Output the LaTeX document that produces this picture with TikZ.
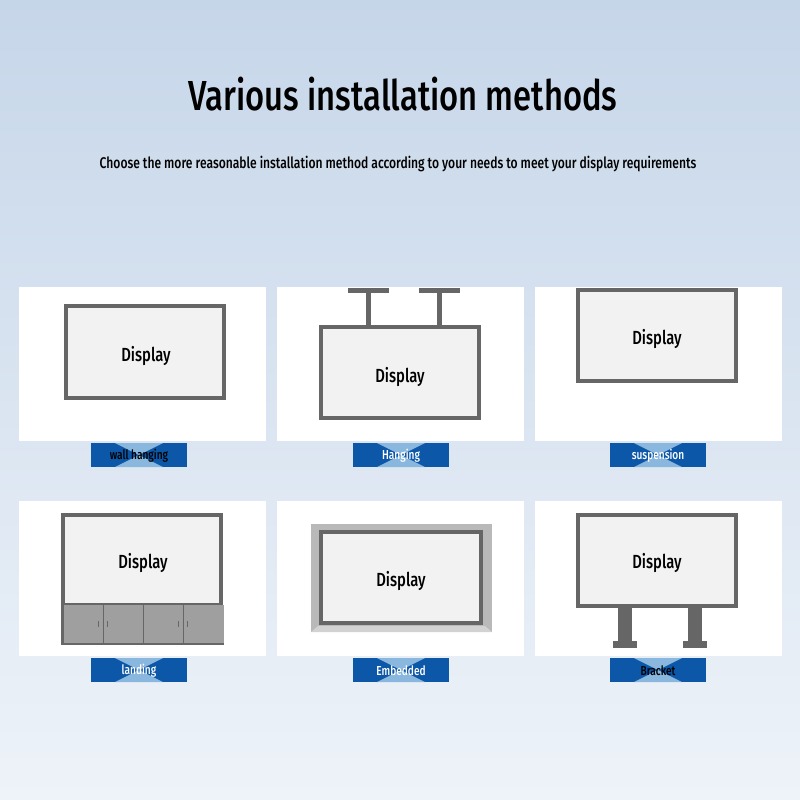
\documentclass[tikz,border=0pt]{standalone}
\usepackage{fontspec}
\setmainfont{Fira Sans}[FakeStretch=0.78]
\newfontfamily\medfont{Fira Sans Medium}[FakeStretch=0.78]
\usetikzlibrary{positioning}
\definecolor{frameg}{HTML}{666666}
\definecolor{screen}{HTML}{F2F2F2}
\definecolor{tagblue}{HTML}{0D57A8}
\definecolor{glow}{HTML}{CDEBFB}
\tikzset{
  panel/.style={fill=white, draw=none},
  screen/.style={fill=screen, draw=frameg, line width=4pt},
  disp/.style={font=\medfont\fontsize{19}{20}\selectfont, text=black},
  tag/.style={font=\medfont\fontsize{13}{14}\selectfont},
  metal/.style={fill=frameg, draw=none}
}
\newcommand{\tagbox}[4]{% x, y, text, colour
  \fill[tagblue] (#1-48,#2) rectangle (#1+48,#2+24);
  \fill[glow!65!tagblue] (#1-24,#2) -- (#1+24,#2) -- (#1,#2+12) -- cycle;
  \fill[glow!65!tagblue] (#1-24,#2+24) -- (#1+24,#2+24) -- (#1,#2+12) -- cycle;
  \node[tag, text=#4] (t#3) at (#1,#2+13) {#3};}
\begin{document}
\begin{tikzpicture}[x=1pt,y=-1pt]
\shade[top color={rgb,255:red,198;green,214;blue,233}, bottom color={rgb,255:red,238;green,243;blue,249}] (0,0) rectangle (800,800);
\useasboundingbox (0,0) rectangle (800,800);
\node[font=\medfont\fontsize{42}{44}\selectfont] (title) at (403,94) {Various installation methods};
\node[font=\medfont\fontsize{15.5}{17}\selectfont] (sub) at (398,164) {Choose the more reasonable installation method according to your needs to meet your display requirements};
% panels
\foreach \x in {19,277,535}
  {\fill[panel] (\x,287) rectangle (\x+247,441);
   \fill[panel] (\x,501) rectangle (\x+247,656);};
% wall hanging
\draw[screen] (66,306) rectangle (224,398);
\node[disp] (d1) at (146,356) {Display};
% hanging
\foreach \x in {348,419}
  {\fill[metal] (\x,288) rectangle (\x+41,293);
   \fill[metal] (\x+18,293) rectangle (\x+23,325);};
\draw[screen] (321,327) rectangle (479,418);
\node[disp] (d2) at (400,377) {Display};
% suspension
\draw[screen] (578,290) rectangle (736,381);
\node[disp] (d3) at (657,339) {Display};
% landing
\draw[screen] (63,515) rectangle (221,605);
\fill[gray!75] (63,605) rectangle (224,643);
\draw[frameg, line width=2pt] (62,644) -- (224,644);
\draw[frameg, line width=3pt] (62,605) -- (62,645);
\foreach \x in {103,143,183}
  \draw[frameg] (\x,605) -- (\x,643);
\foreach \x in {98,107,178,187}
  \draw[frameg] (\x,621) -- (\x,627);
\node[disp] (d4) at (143,563) {Display};
% embedded
\fill[gray!55] (311,524) rectangle (492,632);
\fill[gray!35] (311,632) -- (318,626) -- (485,626) -- (492,632) -- cycle;
\draw[screen] (321,532) rectangle (481,623);
\node[disp] (d5) at (401,581) {Display};
% bracket
\foreach \x in {618,688}
  {\fill[metal] (\x,608) rectangle (\x+14,641);
   \fill[metal] (\x-5,641) rectangle (\x+19,648);};
\draw[screen] (578,515) rectangle (736,606);
\node[disp] (d6) at (657,563) {Display};
% tags
\tagbox{139}{443}{wall hanging}{black}
\tagbox{401}{443}{Hanging}{white}
\tagbox{658}{443}{suspension}{white}
\tagbox{139}{658}{landing}{white}
\tagbox{401}{658}{Embedded}{white}
\tagbox{658}{658}{Bracket}{black}
\end{tikzpicture}
\end{document}
